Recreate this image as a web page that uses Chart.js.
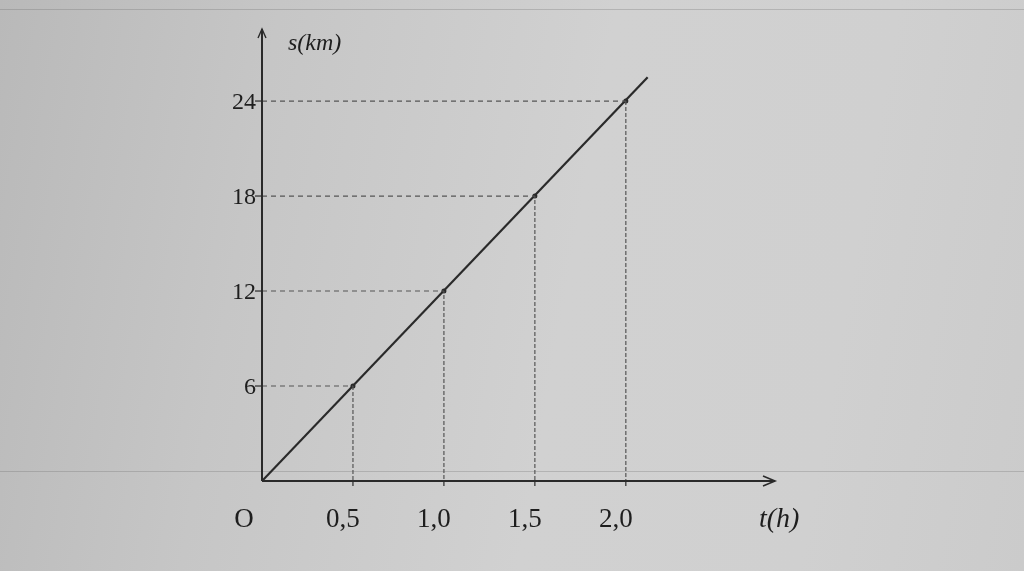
<!DOCTYPE html>
<html>
<head>
<meta charset="utf-8">
<script src="https://cdn.jsdelivr.net/npm/chart.js@4.4.0/dist/chart.umd.min.js"></script>
<style>
  html, body { margin: 0; padding: 0; }
  body {
    width: 1024px; height: 571px; overflow: hidden; position: relative;
    background: linear-gradient(100deg, #b9b9b9 0%, #c6c6c6 25%, #d1d1d1 55%, #d0d0d0 80%, #cbcbcb 100%);
  }
  .rule { position: absolute; left: 0; width: 1024px; height: 1px; background: rgba(90,90,90,0.25); }
  #wrap { position: absolute; left: 0; top: 0; width: 1024px; height: 571px; }
</style>
</head>
<body>
<div class="rule" style="top:471px"></div>
<div class="rule" style="top:9px"></div>
<div id="wrap"><canvas id="chart" width="1024" height="571"></canvas></div>
<script>
// dane: s = 12 * t
const times = [0.5, 1.0, 1.5, 2.0];
const distances = [6, 12, 18, 24];
const lineT = [0, 2.12];
const lineS = [0, 25.5];
const xTickLabels = ['0,5', '1,0', '1,5', '2,0'];
const yTickLabels = ['6', '12', '18', '24'];

const INK = '#2a2a2a';
const GUIDE = '#555555';

// linie pomocnicze: od osi s do punktu, potem w dol do osi t
const guideSets = times.map((t, i) => ({
  data: [{ x: 0, y: distances[i] }, { x: t, y: distances[i] }, { x: t, y: 0 }],
  showLine: true,
  borderColor: GUIDE,
  borderWidth: 1.2,
  pointRadius: 0,
  segment: { borderDash: ctx => ctx.p0DataIndex === 0 ? [5, 4] : [2, 4] }
}));

// osie ze strzalkami + opisy
const axesPlugin = {
  id: 'axesPlugin',
  afterDatasetsDraw(chart) {
    const { ctx, chartArea, scales } = chart;
    const x0 = scales.x.getPixelForValue(0);
    const y0 = scales.y.getPixelForValue(0);
    ctx.save();
    ctx.strokeStyle = INK;
    ctx.fillStyle = INK;
    ctx.lineWidth = 2;
    // os t
    ctx.beginPath();
    ctx.moveTo(x0, y0); ctx.lineTo(chartArea.right, y0);
    ctx.stroke();
    ctx.beginPath();
    ctx.moveTo(chartArea.right - 12, y0 - 5); ctx.lineTo(chartArea.right, y0); ctx.lineTo(chartArea.right - 12, y0 + 5);
    ctx.lineWidth = 1.6; ctx.stroke();
    // os s
    ctx.lineWidth = 2;
    ctx.beginPath();
    ctx.moveTo(x0, y0); ctx.lineTo(x0, chartArea.top);
    ctx.stroke();
    ctx.beginPath();
    ctx.moveTo(x0 - 4, chartArea.top + 9); ctx.lineTo(x0, chartArea.top); ctx.lineTo(x0 + 4, chartArea.top + 9);
    ctx.lineWidth = 1.4; ctx.stroke();

    // znaczniki
    ctx.lineWidth = 1.2;
    distances.forEach(s => {
      const py = scales.y.getPixelForValue(s);
      ctx.beginPath(); ctx.moveTo(x0 - 7, py); ctx.lineTo(x0, py); ctx.stroke();
    });
    times.forEach(t => {
      const px = scales.x.getPixelForValue(t);
      ctx.beginPath(); ctx.moveTo(px, y0); ctx.lineTo(px, y0 + 5); ctx.stroke();
    });

    // etykiety
    ctx.fillStyle = '#1e1e1e';
    ctx.font = '24px "Liberation Serif", serif';
    ctx.textAlign = 'right';
    ctx.textBaseline = 'middle';
    distances.forEach((s, i) => {
      ctx.fillText(yTickLabels[i], x0 - 6, scales.y.getPixelForValue(s) + 2);
    });
    ctx.font = '27px "Liberation Serif", serif';
    ctx.textAlign = 'center';
    ctx.textBaseline = 'alphabetic';
    times.forEach((t, i) => {
      ctx.fillText(xTickLabels[i], scales.x.getPixelForValue(t) - 10, y0 + 46);
    });
    ctx.fillText('O', x0 - 18, y0 + 46);

    ctx.font = 'italic 24px "Liberation Serif", serif';
    ctx.textAlign = 'left';
    ctx.fillText('s(km)', x0 + 26, chartArea.top + 21);
    ctx.font = 'italic 28px "Liberation Serif", serif';
    ctx.fillText('t(h)', chartArea.right - 16, y0 + 46);
    ctx.restore();
  }
};

new Chart(document.getElementById('chart'), {
  type: 'scatter',
  data: {
    datasets: [
      ...guideSets,
      {
        data: lineT.map((t, i) => ({ x: t, y: lineS[i] })),
        showLine: true,
        borderColor: INK,
        borderWidth: 2.2,
        pointRadius: 0
      },
      {
        data: times.map((t, i) => ({ x: t, y: distances[i] })),
        pointRadius: 2.5,
        pointBackgroundColor: INK,
        pointBorderWidth: 0
      }
    ]
  },
  options: {
    responsive: false,
    animation: false,
    layout: { padding: { left: 262, right: 249, top: 29, bottom: 90 } },
    plugins: { legend: { display: false }, tooltip: { enabled: false } },
    scales: {
      x: { type: 'linear', min: 0, max: 2.82, display: false },
      y: { type: 'linear', min: 0, max: 28.55, display: false }
    }
  },
  plugins: [axesPlugin]
});
</script>
</body>
</html>
